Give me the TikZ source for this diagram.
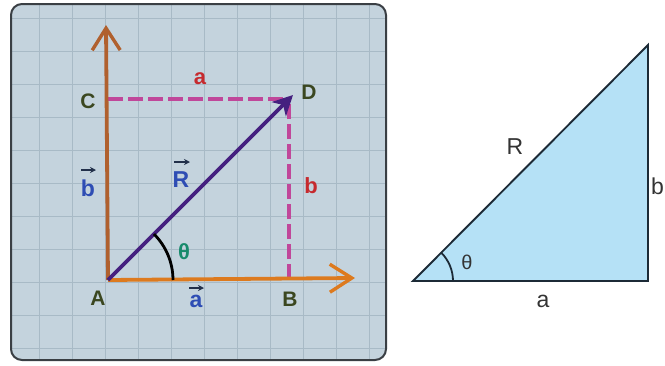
\documentclass[tikz,border=0pt]{standalone}
\usepackage{fontspec}
\setmainfont{Liberation Sans}
\usetikzlibrary{arrows.meta}
\definecolor{panelbg}{HTML}{C4D3DD}
\definecolor{gridc}{HTML}{A8BAC6}
\definecolor{framec}{HTML}{3A3F44}
\definecolor{axisv}{HTML}{B0602E}
\definecolor{axish}{HTML}{DD7A1E}
\definecolor{dashc}{HTML}{C0479A}
\definecolor{rvec}{HTML}{45207F}
\definecolor{ptlab}{HTML}{3B4720}
\definecolor{redlab}{HTML}{C62A2E}
\definecolor{bluelab}{HTML}{2E4DB4}
\definecolor{vecarr}{HTML}{22304A}
\definecolor{thetac}{HTML}{188A6C}
\definecolor{trifill}{HTML}{B5E1F6}
\definecolor{tridraw}{HTML}{1C2A36}
\definecolor{trilab}{HTML}{333333}
\tikzset{
  ptlabel/.style={text=ptlab,font=\fontsize{21}{23}\selectfont\bfseries,inner sep=0pt},
  redlabel/.style={text=redlab,font=\fontsize{22}{24}\selectfont\bfseries,inner sep=0pt},
  veclabel/.style={text=bluelab,font=\fontsize{23}{25}\selectfont\bfseries,inner sep=0pt},
  vecmark/.style={vecarr,line width=1.6pt,-{Stealth[length=6pt,width=6pt]}},
  trilabel/.style={text=trilab,font=\fontsize{23}{25}\selectfont,inner sep=0pt},
  axisarrow/.style={line width=3.8pt,-{Straight Barb[length=22pt,width=28pt,line width=3.4pt]}},
  dashline/.style={dashc,line width=3.4pt,dash pattern=on 15pt off 5pt}
}
\begin{document}
\begin{tikzpicture}[x=1pt,y=-1pt]
\useasboundingbox (0,0) rectangle (665,365);
% left panel
\fill[panelbg,rounded corners=11pt] (11,4) rectangle (386,360);
\begin{scope}
\clip[rounded corners=11pt] (11,4) rectangle (386,360);
\foreach \x in {39,72,105,138,171,204,237,270,303,336,369}
  \draw[gridc,line width=1pt] (\x,4) -- (\x,360);
\foreach \y in {18,51,84,117,150,183,216,249,282,315,348}
  \draw[gridc,line width=1pt] (11,\y) -- (386,\y);
\end{scope}
\draw[framec,line width=2pt,rounded corners=11pt] (11,4) rectangle (386,360);
% points
\coordinate (A) at (108,280);
\coordinate (Bp) at (289,279);
\coordinate (Cp) at (108,99);
\coordinate (Dp) at (293,95);
\coordinate (Xend) at (355,278);
\coordinate (Yend) at (106,25);
% dashed lines
\draw[dashline] (Cp) -- (289,99);
\draw[dashline] (Bp) -- (289,99);
% axes
\draw[axisarrow,axisv] (A) -- (Yend);
\draw[axisarrow,axish] (A) -- (Xend);
% resultant
\draw[rvec,line width=3.8pt,-{Stealth[length=20pt,width=20pt,inset=6pt]}] (A) -- (Dp);
% angle
\draw[black,line width=2.8pt] (173,280) arc[start angle=0,end angle=-45,radius=65];
% labels
\node[ptlabel] (lA) at (98,298) {A};
\node[ptlabel] (lB) at (290,299) {B};
\node[ptlabel] (lC) at (88,101) {C};
\node[ptlabel] (lD) at (309,92) {D};
\node[redlabel] (la) at (200,79) {a};
\node[redlabel] (lb) at (311,186) {b};
\node[veclabel] (vb) at (88,188) {b};
\node[veclabel] (vR) at (181,180) {R};
\node[veclabel] (va) at (196,301) {a};
\draw[vecmark] (81,170) -- (96,170);
\draw[vecmark] (174,162) -- (190,162);
\draw[vecmark] (189,288) -- (204,288);
\node[text=thetac,font=\fontsize{22}{24}\selectfont\bfseries,inner sep=0pt] (th) at (184,252) {θ};
% right triangle
\coordinate (P) at (413,281);
\coordinate (Q) at (648,281);
\coordinate (S) at (648,45);
\fill[trifill] (P) -- (Q) -- (S) -- cycle;
\draw[tridraw,line width=1.9pt,line join=miter] (P) -- (Q) -- (S) -- cycle;
\draw[tridraw,line width=1.8pt] (453,281) arc[start angle=0,end angle=-45,radius=40];
\node[trilabel] (tR) at (515,147) {R};
\node[trilabel,anchor=west] (tb) at (651,186) {b};
\node[trilabel] (ta) at (543,301) {a};
\node[text=trilab,font=\fontsize{20}{22}\selectfont,inner sep=0pt] (tth) at (467,262) {θ};
\end{tikzpicture}
\end{document}
